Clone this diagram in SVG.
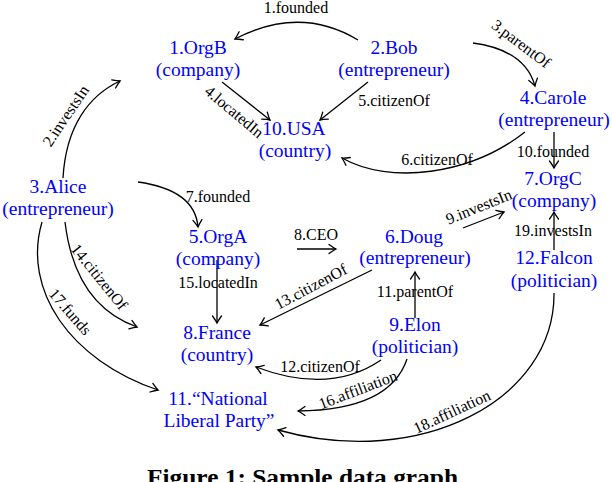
<svg xmlns="http://www.w3.org/2000/svg" width="612" height="482" viewBox="0 0 612 482">
<defs>
<marker id="arr" viewBox="-10 -6 12 12" markerWidth="12" markerHeight="12" refX="0" refY="0" orient="auto" markerUnits="userSpaceOnUse">
<path d="M-7,-4.5 Q-2.5,-1.2 0,0 Q-2.5,1.2 -7,4.5" fill="none" stroke="#000" stroke-width="1.3" stroke-linecap="round"/>
</marker>
<style>
.n{font-family:"Liberation Serif","Times New Roman",serif;font-size:19.5px;fill:#0000ff;text-anchor:middle}
.l{font-family:"Liberation Serif","Times New Roman",serif;font-size:16px;fill:#000;text-anchor:middle}
.e{fill:none;stroke:#000;stroke-width:1.3;marker-end:url(#arr)}
.cap{font-family:"Liberation Serif","Times New Roman",serif;font-size:23px;font-weight:bold;fill:#000}
</style>
</defs>
<rect width="612" height="482" fill="#fff"/>
<g id="connectors">
<path class="e" d="M358,40 Q300,5 235,39"/>
<path class="e" d="M63,178 C66,125 90,95 120,81"/>
<path class="e" d="M473,43 Q525,50 535,86"/>
<path class="e" d="M222,82 L270,120"/>
<path class="e" d="M368,82 L320,120"/>
<path class="e" d="M525,132 C470,175 390,185 342,158"/>
<path class="e" d="M554,132 L554,168"/>
<path class="e" d="M554,250 L554,212"/>
<path class="e" d="M138,182 Q195,190 198,227"/>
<path class="e" d="M297,249 L336,249"/>
<path class="e" d="M463,228 L504,212"/>
<path class="e" d="M415,318 L415,272"/>
<path class="e" d="M381,360 Q330,395 256,367"/>
<path class="e" d="M372,270 L260,325"/>
<path class="e" d="M65,222 Q75,305 137,327"/>
<path class="e" d="M217,260 L217,323"/>
<path class="e" d="M407,359 Q390,410 298,411"/>
<path class="e" d="M42,222 C22,290 70,360 158,390"/>
<path class="e" d="M554,293 C555,400 420,470 278,430"/>
<g id="edge-labels">
<text class="l" x="296" y="13">1.founded</text>
<text class="l" transform="translate(66,116) rotate(-56)" y="5">2.investsIn</text>
<text class="l" transform="translate(521,44) rotate(37)" y="5">3.parentOf</text>
<text class="l" transform="translate(234,112) rotate(40)" y="5">4.locatedIn</text>
<text class="l" x="394" y="106">5.citizenOf</text>
<text class="l" x="437" y="165">6.citizenOf</text>
<text class="l" x="218" y="202">7.founded</text>
<text class="l" x="316" y="240">8.CEO</text>
<text class="l" transform="translate(479,207) rotate(-22)" y="5">9.investsIn</text>
<text class="l" x="553" y="157">10.founded</text>
<text class="l" x="415" y="297">11.parentOf</text>
<text class="l" x="320" y="372">12.citizenOf</text>
<text class="l" transform="translate(311,287) rotate(-28)" y="5">13.citizenOf</text>
<text class="l" transform="translate(99,277) rotate(51)" y="5">14.citizenOf</text>
<text class="l" x="218" y="288">15.locatedIn</text>
<text class="l" transform="translate(358,390) rotate(-21)" y="5">16.affiliation</text>
<text class="l" transform="translate(70,312) rotate(49)" y="5">17.funds</text>
<text class="l" transform="translate(452,412) rotate(-25)" y="5">18.affiliation</text>
<text class="l" x="553" y="236">19.investsIn</text>
</g>
</g>
<g id="n1"><text class="n" x="198" y="54">1.OrgB</text><text class="n" x="198" y="76">(company)</text></g>
<g id="n2"><text class="n" x="394" y="54">2.Bob</text><text class="n" x="394" y="76">(entrepreneur)</text></g>
<g id="n3"><text class="n" x="58" y="193">3.Alice</text><text class="n" x="58" y="215">(entrepreneur)</text></g>
<g id="n4"><text class="n" x="553" y="104">4.Carole</text><text class="n" x="554" y="126">(entrepreneur)</text></g>
<g id="n5"><text class="n" x="218" y="243">5.OrgA</text><text class="n" x="218" y="265">(company)</text></g>
<g id="n6"><text class="n" x="414" y="243">6.Doug</text><text class="n" x="415" y="264">(entrepreneur)</text></g>
<g id="n7"><text class="n" x="553" y="185">7.OrgC</text><text class="n" x="554" y="207">(company)</text></g>
<g id="n8"><text class="n" x="217" y="339">8.France</text><text class="n" x="217" y="361">(country)</text></g>
<g id="n9"><text class="n" x="415" y="331">9.Elon</text><text class="n" x="415" y="353">(politician)</text></g>
<g id="n10"><text class="n" x="294" y="135">10.USA</text><text class="n" x="295" y="157">(country)</text></g>
<g id="n11"><text class="n" x="218" y="405">11.“National</text><text class="n" x="219" y="427">Liberal Party”</text></g>
<g id="n12"><text class="n" x="554" y="264">12.Falcon</text><text class="n" x="554" y="287">(politician)</text></g>
<text class="cap" x="147" y="485" textLength="311" lengthAdjust="spacingAndGlyphs">Figure 1: Sample data graph</text>
</svg>
